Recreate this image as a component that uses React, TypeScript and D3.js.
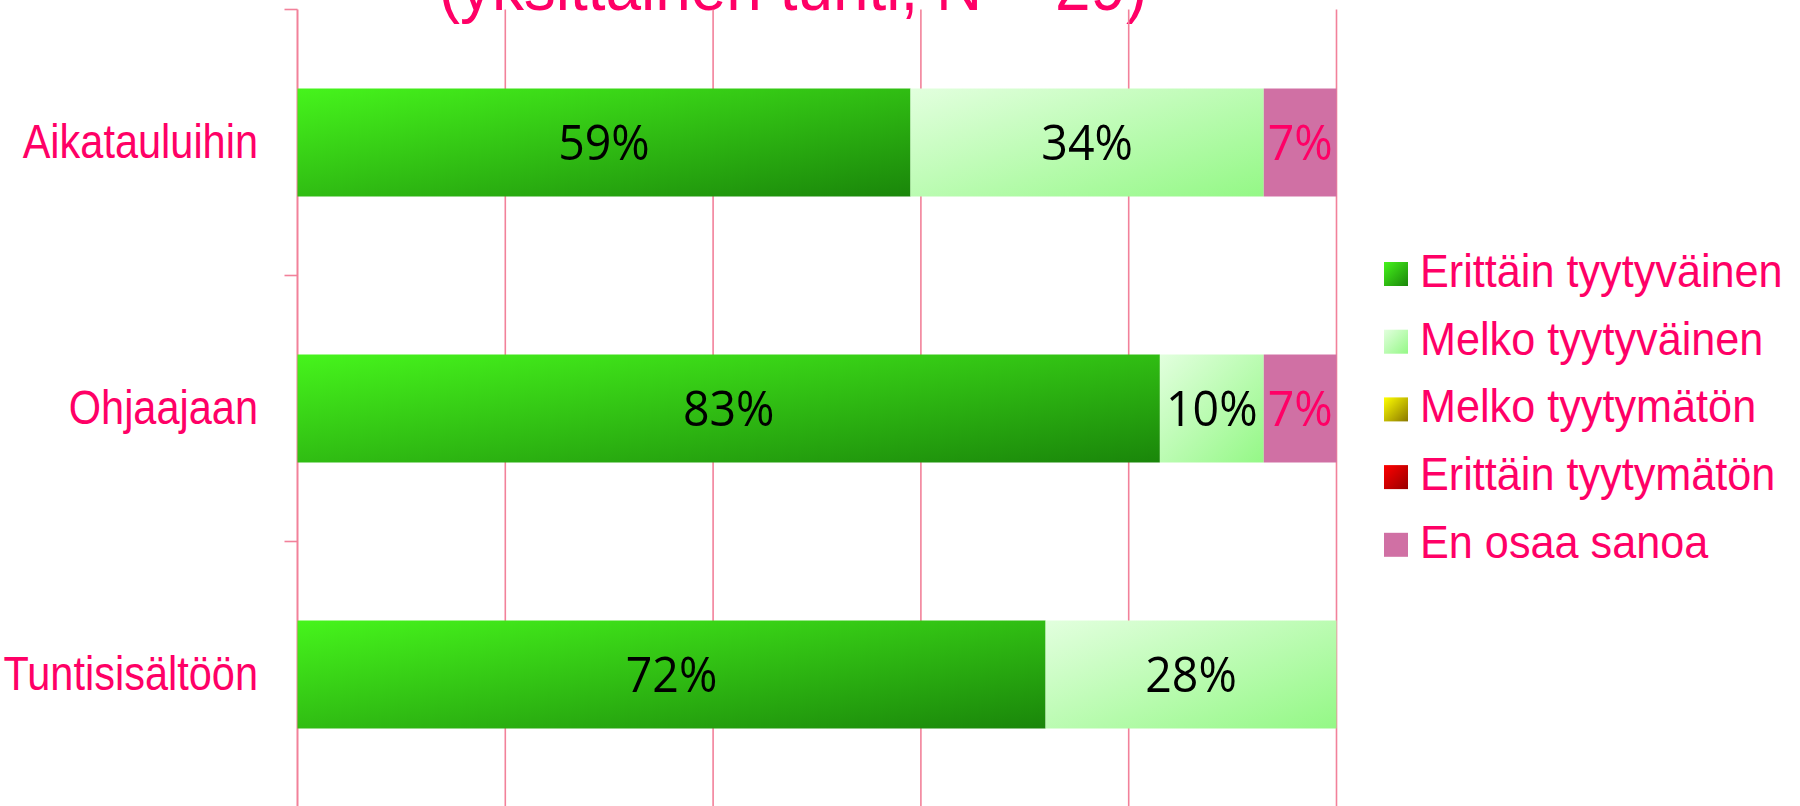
import React from "react";
import * as d3 from "d3";

const categories = ["Aikatauluihin", "Ohjaajaan", "Tuntisisältöön"];
const seriesNames = [
  "Erittäin tyytyväinen",
  "Melko tyytyväinen",
  "Melko tyytymätön",
  "Erittäin tyytymätön",
  "En osaa sanoa",
];
const erittainTyytyvainen = [59, 83, 72];
const melkoTyytyvainen = [34, 10, 28];
const melkoTyytymaton = [0, 0, 0];
const erittainTyytymaton = [0, 0, 0];
const enOsaaSanoa = [7, 7, 0];
const xTicks = [0, 20, 40, 60, 80, 100];
const title = "(yksittäinen tunti, N = 29)";

const W = 1800;
const H = 806;
const PINK = "#ff0066";
const GRID = "#f2819a";

const gradients = [
  { id: "g0", from: "#46f41c", to: "#1a860a" },
  { id: "g1", from: "#e2ffde", to: "#94f886" },
  { id: "g2", from: "#ffff00", to: "#8a7800" },
  { id: "g3", from: "#ff0000", to: "#980000" },
];
const fills = ["url(#g0)", "url(#g1)", "url(#g2)", "url(#g3)", "#d070a4"];
const labelColors = ["#000", "#000", "#000", "#000", PINK];

export default function App() {
  const series = [erittainTyytyvainen, melkoTyytyvainen, melkoTyytymaton, erittainTyytymaton, enOsaaSanoa];
  const rows = categories.map((c, i) => {
    const r: any = { cat: c };
    seriesNames.forEach((s, k) => (r[s] = series[k][i]));
    return r;
  });
  const stack = d3.stack<any>().keys(seriesNames)(rows);

  const x = d3.scaleLinear().domain([0, 100]).range([297.5, 1336.5]);
  const y = d3
    .scaleBand<string>()
    .domain(categories)
    .range([9.5, 807.5])
    .paddingInner(0.594)
    .paddingOuter(0.297);
  const step = y.step();
  const bw = y.bandwidth();
  const bounds = d3.range(categories.length + 1).map((i) => 9.5 + i * step);

  const font = "'Liberation Sans', Arial, sans-serif";
  const labelFont = "'Open Sans', 'Liberation Sans', sans-serif";

  return (
    <svg width={W} height={H} style={{ position: "absolute", left: 0, top: 0, background: "#fff" }}>
      <defs>
        {gradients.map((g) => (
          <linearGradient key={g.id} id={g.id} x1="0" y1="0" x2="1" y2="1">
            <stop offset="0" stopColor={g.from} />
            <stop offset="1" stopColor={g.to} />
          </linearGradient>
        ))}
      </defs>
      <rect width={W} height={H} fill="#fff" />

      {/* title (mostly cut off above, as in the reference) */}
      <text
        transform={`translate(793,10) scale(0.94,1)`}
        textAnchor="middle"
        fontFamily={font}
        fontSize={68}
        fill={PINK}
      >
        {title}
      </text>

      {/* vertical grid lines */}
      {xTicks.map((t) => (
        <line key={t} x1={x(t)} x2={x(t)} y1={bounds[0]} y2={bounds[bounds.length - 1]} stroke={GRID} strokeWidth={t === 0 ? 2 : 1.6} />
      ))}
      {/* category tick marks */}
      {bounds.map((b, i) => (
        <line key={i} x1={x(0) - 13} x2={x(0)} y1={b} y2={b} stroke={GRID} strokeWidth={1.6} />
      ))}

      {/* bars */}
      {stack.map((layer, k) => (
        <g key={layer.key}>
          {layer.map((d, i) => {
            const v = d[1] - d[0];
            if (v <= 0) return null;
            const yy = y(categories[i]) as number;
            return <rect key={i} x={x(d[0])} y={yy} width={x(d[1]) - x(d[0])} height={bw} fill={fills[k]} />;
          })}
        </g>
      ))}
      {/* data labels */}
      {stack.map((layer, k) => (
        <g key={"l" + layer.key}>
          {layer.map((d, i) => {
            const v = d[1] - d[0];
            if (v <= 0) return null;
            const cx = (x(d[0]) + x(d[1])) / 2;
            const cy = (y(categories[i]) as number) + bw / 2;
            return (
              <text
                key={i}
                transform={`translate(${cx},${cy + 17}) scale(0.93,1)`}
                textAnchor="middle"
                fontFamily={labelFont}
                fontWeight={400}
                fontSize={50}
                fill={labelColors[k]}
              >
                {v}%
              </text>
            );
          })}
        </g>
      ))}

      {/* category labels */}
      {categories.map((c) => (
        <text
          key={c}
          transform={`translate(258,${(y(c) as number) + bw / 2 + 15}) scale(0.874,1)`}
          textAnchor="end"
          fontFamily={font}
          fontSize={47.5}
          fill={PINK}
        >
          {c}
        </text>
      ))}

      {/* legend */}
      {seriesNames.map((s, k) => {
        const cy = 274 + k * 67.7;
        return (
          <g key={s}>
            <rect x={1384} y={cy - 12} width={24} height={24} fill={fills[k]} />
            <text
              transform={`translate(1420,${cy + 13}) scale(0.95,1)`}
              fontFamily={font}
              fontSize={45.5}
              fill={PINK}
            >
              {s}
            </text>
          </g>
        );
      })}
    </svg>
  );
}
